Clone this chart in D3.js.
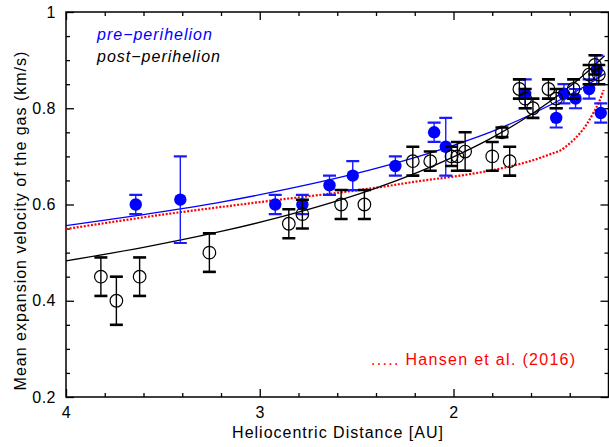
<!DOCTYPE html>
<html>
<head>
<meta charset="utf-8">
<script src="https://cdn.jsdelivr.net/npm/d3@7/dist/d3.min.js"></script>
<style>
  html, body { margin: 0; padding: 0; background: #fff; }
  svg { display: block; }
  text { font-family: "Liberation Sans", Arial, Helvetica, sans-serif; }
</style>
</head>
<body>
<svg id="chart" width="609" height="447"></svg>
<script>
// Pre-perihelion measurements (filled blue)
const preR   = [3.64, 3.41, 2.92, 2.78, 2.64, 2.52, 2.30, 2.10, 2.04, 1.63, 1.47, 1.43, 1.37, 1.30, 1.26, 1.24];
const preV   = [0.60, 0.61, 0.60, 0.60, 0.64, 0.66, 0.68, 0.75, 0.72, 0.83, 0.78, 0.83, 0.82, 0.84, 0.88, 0.79];
const preErr = [0.02, 0.09, 0.02, 0.02, 0.02, 0.03, 0.02, 0.02, 0.06, 0.03, 0.02, 0.02, 0.02, 0.02, 0.03, 0.02];

// Post-perihelion measurements (open black)
const postR   = [3.82, 3.74, 3.62, 3.26, 2.85, 2.78, 2.58, 2.46, 2.21, 2.12, 2.01, 1.98, 1.94, 1.80, 1.75, 1.71,
                 1.66, 1.63, 1.59, 1.51, 1.47, 1.38, 1.30, 1.27, 1.25];
const postV   = [0.45, 0.40, 0.45, 0.50, 0.56, 0.58, 0.60, 0.60, 0.69, 0.69, 0.70, 0.70, 0.71, 0.70, 0.75, 0.69,
                 0.84, 0.82, 0.80, 0.84, 0.82, 0.84, 0.87, 0.89, 0.87];
const postErr = [0.04, 0.05, 0.04, 0.04, 0.03, 0.03, 0.03, 0.03, 0.03, 0.02, 0.02, 0.03, 0.04, 0.03, 0.01, 0.03,
                 0.02, 0.02, 0.02, 0.02, 0.02, 0.02, 0.02, 0.02, 0.02];

// Fitted trends, sampled along heliocentric distance
const fitR    = [4.0, 3.6, 3.2, 2.8, 2.4, 2.0, 1.8, 1.6, 1.4, 1.3, 1.22];
const preFit  = [0.556, 0.579, 0.605, 0.637, 0.675, 0.723, 0.752, 0.787, 0.828, 0.851, 0.872];
const postFit = [0.483, 0.511, 0.544, 0.584, 0.634, 0.699, 0.739, 0.787, 0.845, 0.879, 0.909];

// Hansen et al. (2016) model curve
const hansenR = [4.0, 3.5, 3.0, 2.38, 2.17, 2.0, 1.83, 1.71, 1.59, 1.49, 1.45, 1.40, 1.35, 1.31, 1.28, 1.25, 1.225];
const hansenV = [0.549, 0.579, 0.605, 0.636, 0.649, 0.658, 0.669, 0.679, 0.692, 0.706, 0.712, 0.727, 0.747, 0.768, 0.789, 0.812, 0.838];

// Axis ticks
const xMajor = [4, 3, 2];
const xMinor = [3.8, 3.6, 3.4, 3.2, 2.8, 2.6, 2.4, 2.2, 1.8, 1.6, 1.4];
const yMajor = [0.2, 0.4, 0.6, 0.8, 1.0];
const yMinor = [0.25, 0.3, 0.35, 0.45, 0.5, 0.55, 0.65, 0.7, 0.75, 0.85, 0.9, 0.95];

const mLeft = 66, mRight = 608.5, mTop = 12, mBottom = 397;
const svg = d3.select("#chart");

const x = d3.scaleLinear().domain([4, 1.2]).range([mLeft, mRight]);
const y = d3.scaleLinear().domain([0.2, 1.0]).range([mBottom, mTop]);

const fmtY = v => (v === 1 ? "1" : d3.format(".1f")(v));

function styleAxis(g) {
  g.select(".domain").remove();
  g.selectAll(".tick line").attr("stroke", "#000").attr("stroke-width", 1.3);
  g.selectAll(".tick text").attr("fill", "#000").style("font-size", "16px")
    .style("letter-spacing", "0.5px").style("font-family", "'Liberation Sans', Arial, sans-serif");
}

// bottom axis
svg.append("g").attr("transform", `translate(0,${mBottom})`)
  .call(d3.axisBottom(x).tickValues(xMajor).tickSize(-8).tickPadding(10).tickFormat(d3.format("d")))
  .call(styleAxis);
svg.append("g").attr("transform", `translate(0,${mBottom})`)
  .call(d3.axisBottom(x).tickValues(xMinor).tickSize(-4).tickFormat(""))
  .call(styleAxis);
// top axis
svg.append("g").attr("transform", `translate(0,${mTop})`)
  .call(d3.axisTop(x).tickValues(xMajor).tickSize(-8).tickFormat(""))
  .call(styleAxis);
svg.append("g").attr("transform", `translate(0,${mTop})`)
  .call(d3.axisTop(x).tickValues(xMinor).tickSize(-4).tickFormat(""))
  .call(styleAxis);
// left axis
svg.append("g").attr("transform", `translate(${mLeft},0)`)
  .call(d3.axisLeft(y).tickValues(yMajor).tickSize(-8).tickPadding(10).tickFormat(fmtY))
  .call(styleAxis);
svg.append("g").attr("transform", `translate(${mLeft},0)`)
  .call(d3.axisLeft(y).tickValues(yMinor).tickSize(-4).tickFormat(""))
  .call(styleAxis);
// right axis
svg.append("g").attr("transform", `translate(${mRight},0)`)
  .call(d3.axisRight(y).tickValues(yMajor).tickSize(-8).tickFormat(""))
  .call(styleAxis);
svg.append("g").attr("transform", `translate(${mRight},0)`)
  .call(d3.axisRight(y).tickValues(yMinor).tickSize(-4).tickFormat(""))
  .call(styleAxis);

// frame
svg.append("rect")
  .attr("x", mLeft).attr("y", mTop)
  .attr("width", mRight - mLeft).attr("height", mBottom - mTop)
  .attr("fill", "none").attr("stroke", "#000").attr("stroke-width", 1.5);

const plot = svg.append("g");
plot.append("clipPath").attr("id", "clip")
  .append("rect").attr("x", mLeft).attr("y", mTop).attr("width", mRight - mLeft).attr("height", mBottom - mTop);
const inner = plot.append("g").attr("clip-path", "url(#clip)");

const curveLine = d3.line().x(d => x(d[0])).y(d => y(d[1])).curve(d3.curveMonotoneX);

// Hansen model (dotted red)
inner.append("path")
  .datum(d3.zip(hansenR, hansenV))
  .attr("d", curveLine)
  .attr("fill", "none").attr("stroke", "#ff0000").attr("stroke-width", 2.2)
  .attr("stroke-dasharray", "2,1.6");

// fit lines
inner.append("path").datum(d3.zip(fitR, preFit)).attr("d", curveLine)
  .attr("fill", "none").attr("stroke", "#0000ff").attr("stroke-width", 1.3);
inner.append("path").datum(d3.zip(fitR, postFit)).attr("d", curveLine)
  .attr("fill", "none").attr("stroke", "#000").attr("stroke-width", 1.3);

// error bars + markers
function errorBars(g, R, V, E, color, capW) {
  const data = d3.zip(R, V, E);
  const eb = g.append("g").selectAll("g").data(data).join("g");
  eb.append("line")
    .attr("x1", d => x(d[0])).attr("x2", d => x(d[0]))
    .attr("y1", d => y(d[1] + d[2])).attr("y2", d => y(d[1] - d[2]))
    .attr("stroke", color).attr("stroke-width", 1.4);
  [1, -1].forEach(s => {
    eb.append("line")
      .attr("x1", d => x(d[0]) - 6.5).attr("x2", d => x(d[0]) + 6.5)
      .attr("y1", d => y(d[1] + s * d[2])).attr("y2", d => y(d[1] + s * d[2]))
      .attr("stroke", color).attr("stroke-width", capW);
  });
}

errorBars(inner, preR, preV, preErr, "#1a1aff", 2.2);
inner.append("g").selectAll("circle").data(d3.zip(preR, preV)).join("circle")
  .attr("cx", d => x(d[0])).attr("cy", d => y(d[1])).attr("r", 6.2)
  .attr("fill", "#0000ff");

errorBars(inner, postR, postV, postErr, "#000", 2.6);
inner.append("g").selectAll("circle").data(d3.zip(postR, postV)).join("circle")
  .attr("cx", d => x(d[0])).attr("cy", d => y(d[1])).attr("r", 6.3)
  .attr("fill", "none").attr("stroke", "#000").attr("stroke-width", 1.2);

// legend
svg.append("text").attr("x", 97).attr("y", 40)
  .style("font-size", "16px").style("font-style", "italic").style("letter-spacing", "1px")
  .attr("fill", "#0000ff").text("pre\u2212perihelion");
svg.append("text").attr("x", 97).attr("y", 62)
  .style("font-size", "16px").style("font-style", "italic").style("letter-spacing", "1px")
  .attr("fill", "#000").text("post\u2212perihelion");

svg.append("text").attr("x", 371).attr("y", 365)
  .style("font-size", "16px").style("letter-spacing", "1.3px")
  .attr("fill", "#ff0000").text("..... Hansen et al. (2016)");

// axis titles
svg.append("text").attr("x", 338).attr("y", 438)
  .attr("text-anchor", "middle")
  .style("font-size", "16px").style("letter-spacing", "1px")
  .attr("fill", "#000").text("Heliocentric Distance [AU]");

svg.append("text")
  .attr("transform", `translate(26,${(mTop + mBottom) / 2 + 16}) rotate(-90)`)
  .attr("text-anchor", "middle")
  .style("font-size", "16px").style("letter-spacing", "1px")
  .attr("fill", "#000").text("Mean expansion velocity of the gas (km/s)");
</script>
</body>
</html>
